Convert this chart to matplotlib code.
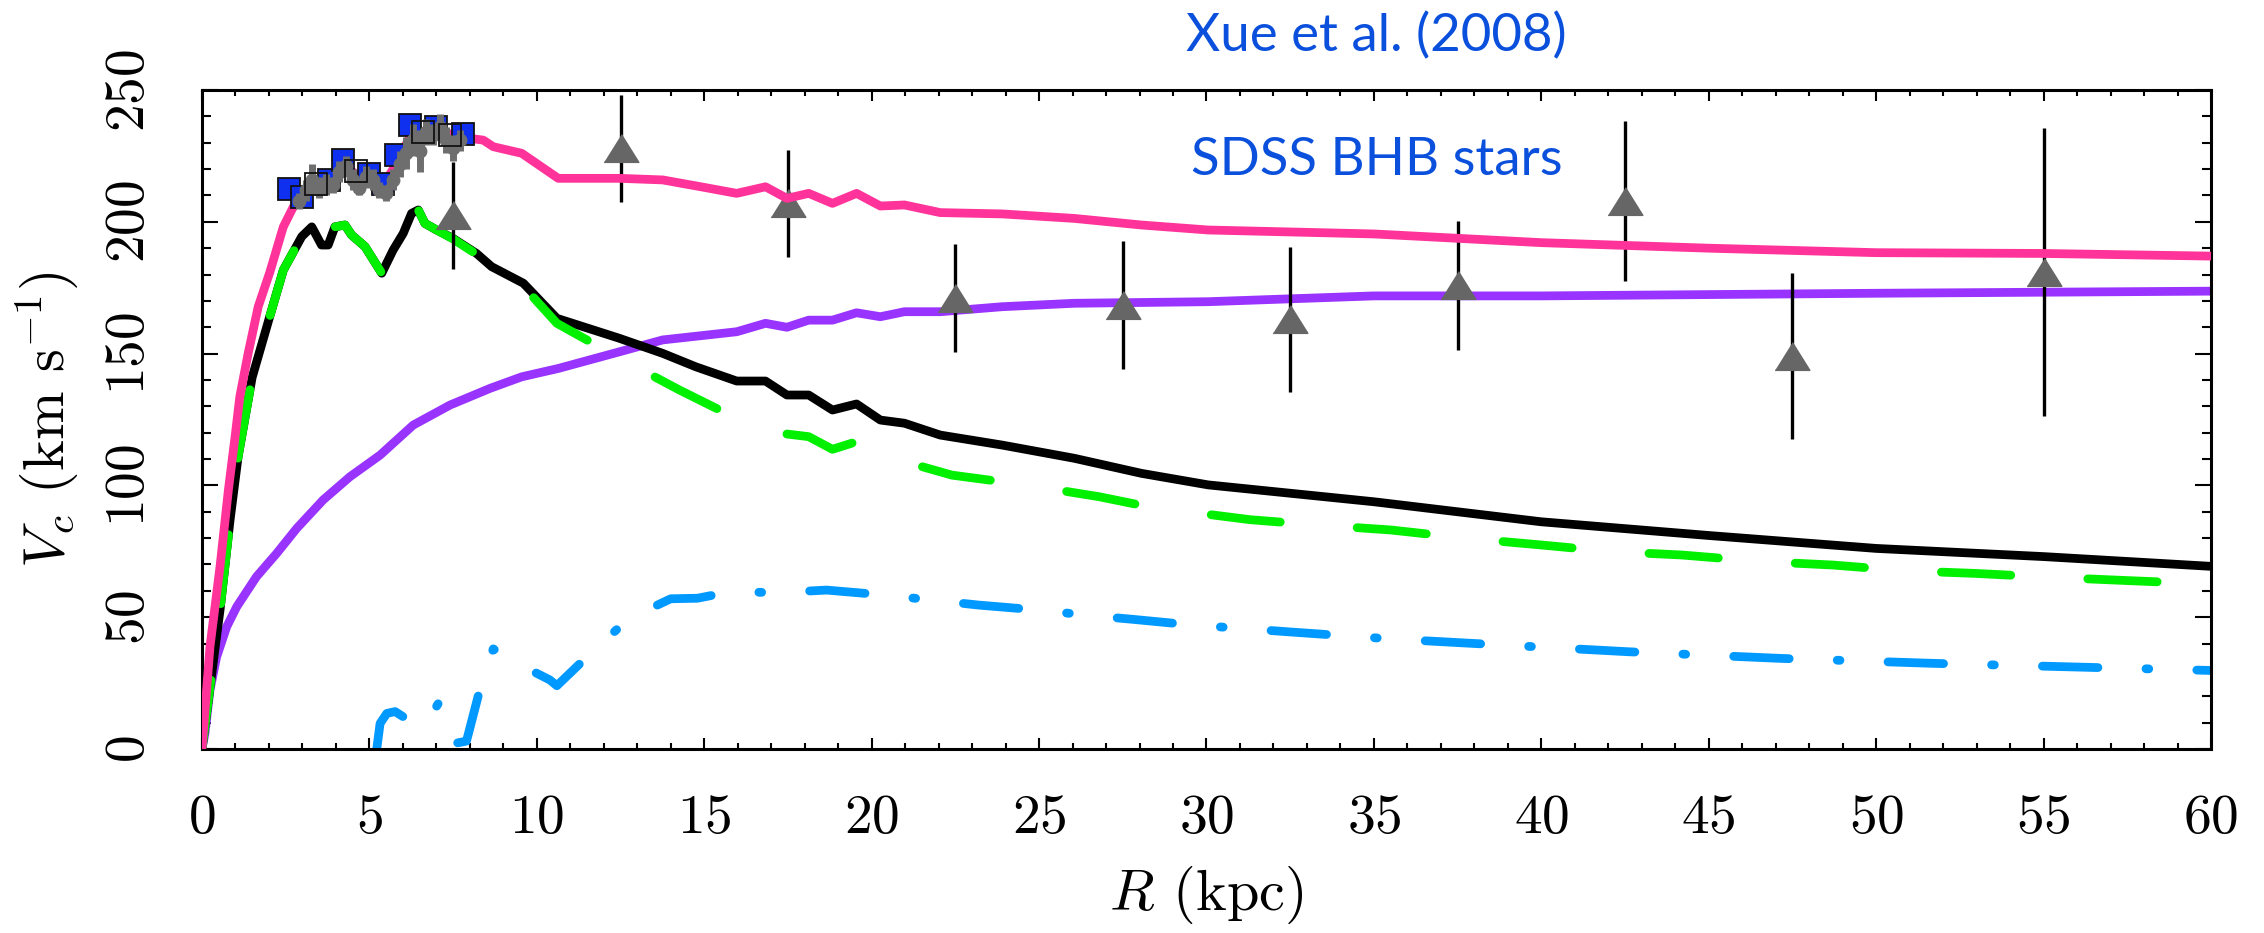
import matplotlib
matplotlib.use("Agg")
import matplotlib.pyplot as plt

plt.rcParams.update({
    "font.family": "cmr10",
    "mathtext.fontset": "cm",
    "axes.formatter.use_mathtext": True,
    "lines.scale_dashes": False,
})

# ---------------- model rotation curves (R in kpc, V in km/s) ----------------
total_R = [0, 0.24, 0.54, 0.79, 0.99, 1.13, 1.38, 1.68, 2.03, 2.43, 2.73, 3.0, 3.3, 3.6,
           4.0, 4.3, 4.6, 5.0, 5.4, 5.8, 6.2, 6.6, 7.0, 7.5, 7.8, 8.4, 8.7, 9.55, 10.64,
           12.47, 13.76, 14.9, 15.97, 16.83, 17.47, 18.12, 18.83, 19.55, 20.26, 20.98,
           22.05, 23.9, 26.05, 28.05, 30.05, 35, 40, 45, 50, 55, 60]
total_V = [0, 38.8, 69.2, 98.3, 118.5, 133.6, 150.1, 167.8, 181, 198.1, 205.7, 209.5, 213,
           212, 216, 221, 218, 216, 213.5, 222, 232, 234, 235, 233, 232, 231, 228.5, 226,
           216.5, 216.5, 215.9, 213.3, 210.8, 213.3, 208.9, 210.8, 207, 210.8, 206, 206.4,
           203.5, 203, 201.3, 198.8, 196.9, 195.4, 192.1, 190, 188.3, 188, 187]

baryon_R = [0, 0.54, 0.84, 1.08, 1.5, 2.08, 2.43, 2.98, 3.28, 3.57, 3.77, 3.97, 4.27, 4.47,
            4.87, 5.37, 5.71, 6.01, 6.26, 6.46, 6.66, 7.01, 7.5, 8.2, 8.65, 9.6, 10.6,
            12.47, 13.76, 14.75, 15.97, 16.83, 17.47, 18.12, 18.83, 19.55, 20.26, 20.98,
            22.05, 23.9, 26.05, 28.05, 30.05, 35, 40, 45, 50, 55, 60]
baryon_V = [0, 52.7, 86.9, 110.9, 141, 166.5, 181.7, 194.4, 198.1, 191.2, 191.2, 198.1,
            198.8, 195, 190.6, 180.5, 189.3, 195.6, 203.2, 204.5, 199.4, 196.9, 193.7, 188,
            183, 176.7, 163.4, 155.8, 150.1, 145, 139.6, 139.6, 134.3, 134.3, 128.6, 130.9,
            124.8, 123.6, 119.1, 115.3, 110.3, 104.6, 100.2, 93.8, 86.2, 81, 76.1, 73, 69.3]

disk_R = [0, 0.54, 0.84, 1.08, 1.5, 2.08, 2.43, 2.98, 3.28, 3.57, 3.77, 3.97, 4.27, 4.47,
          4.87, 5.37, 5.71, 6.01, 6.26, 6.46, 6.66, 7.01, 7.5, 8.2, 8.65, 9.6, 10.6, 12.4,
          13.8, 14.26, 15.97, 16.83, 17.47, 18.12, 18.83, 19.55, 20.26, 20.98, 22.4, 24.6,
          26.8, 28.0, 29.0, 31.3, 33.3, 35.5, 37.8, 40.0, 42.1, 44.2, 46.6, 48.7, 50.9,
          53.0, 55.3, 57.5, 60]
disk_V = [0, 52.7, 86.9, 110.9, 141, 166.5, 181.7, 194.4, 198.1, 191.2, 191.2, 198.1,
          198.8, 195, 190.6, 180.5, 189.3, 195.6, 203.2, 204.5, 199.4, 196.9, 193.5, 187.7,
          182.5, 175.5, 161.5, 148.8, 139.3, 136.2, 125.4, 125.2, 119.5, 118.5, 113.7,
          116.6, 110, 109, 103.9, 100.2, 95.7, 92.6, 90.7, 87, 85, 83.1, 79.9, 77.4, 74.9,
          73.6, 71.1, 69.8, 67.6, 66.6, 65.1, 63.9, 62.6]

gas_R = [5.22, 5.32, 5.52, 5.77, 6.16, 6.5, 6.8, 7.06, 7.16, 7.5, 7.9, 8.35, 8.7, 9.0, 9.1,
         10.39, 10.6, 11.69, 12.75, 14.0, 14.8, 15.8, 17.2, 18.65, 20.4, 21.8, 23.2, 25.0,
         26.4, 27.8, 29.6, 31.0, 32.4, 34.2, 35.6, 37.9, 42.6, 47.1, 51.7, 56.3, 60]
gas_V = [0, 9.7, 13.5, 14.2, 11, 8, 12, 17.3, 13.5, 2, 3, 25, 38, 35.3, 34.5, 26.2, 24,
         37.3, 49.5, 57, 57.2, 59.7, 59.3, 60.3, 58.4, 56.5, 54.6, 52.7, 50.8, 49.2, 47.0,
         45.8, 44.5, 42.9, 41.7, 40.1, 36.9, 34.4, 32.5, 31.0, 29.8]

halo_R = [0, 0.09, 0.24, 0.44, 0.74, 1.04, 1.63, 2.23, 2.83, 3.62, 4.42, 5.32, 6.31, 7.41,
          8.6, 9.55, 10.65, 12.47, 13.76, 15.97, 16.83, 17.47, 18.12, 18.83, 19.55, 20.26,
          20.98, 22.05, 23.9, 26.05, 30.05, 35, 40, 50, 60]
halo_V = [0, 6, 22.4, 35, 46.4, 54, 65.4, 74.2, 83.7, 94.5, 103.3, 111.5, 122.9, 130.5,
          136.8, 141.2, 144.4, 150.7, 155.2, 158.3, 161.5, 160, 162.7, 162.7, 165.5, 164,
          165.9, 165.9, 167.8, 169.1, 169.7, 171.9, 171.9, 172.9, 173.7]

# ---------------- observations ----------------
bhb_R = [7.5, 12.5, 17.5, 22.5, 27.5, 32.5, 37.5, 42.5, 47.5, 55]
bhb_V = [202.5, 228, 207, 171, 168.5, 163, 176, 208, 149, 181]
bhb_err = [20.3, 20.3, 20.3, 20.4, 24.4, 27.4, 24.5, 30.3, 31.4, 54.5]

filled_R = [2.6, 3.0, 3.8, 4.2, 5.0, 5.4, 5.8, 6.2, 7.0, 7.8]
filled_V = [212.4, 209.5, 215.7, 223.4, 218.1, 214.4, 225.4, 236.6, 236, 233.5]

open_R = [3.4, 4.6, 6.6, 7.4]
open_V = [214.2, 219.4, 234.2, 233]

inner_R = [2.9, 3.1, 3.3, 3.5, 3.7, 3.9, 4.1, 4.3, 4.5, 4.7, 4.9, 5.1, 5.3, 5.5, 5.7, 5.9,
           6.1, 6.3, 6.5, 6.7, 6.9, 7.1, 7.3, 7.5, 7.7]
inner_V = [208, 212, 216, 213, 214, 214, 219, 221, 216, 213, 217, 216, 212, 211, 216, 222,
           226, 231, 227, 234, 233, 236, 231, 228, 231]
inner_err = [3, 4, 6, 4, 4, 3, 4, 4, 4, 3, 4, 4, 3, 3, 4, 5, 6, 6, 8, 5, 4, 5, 5, 5, 4]

x_ticks = [0, 5, 10, 15, 20, 25, 30, 35, 40, 45, 50, 55, 60]
y_ticks = [0, 50, 100, 150, 200, 250]

# ---------------- figure ----------------
fig = plt.figure(figsize=(22.64, 9.33), dpi=100)
ax = fig.add_axes([0.0892, 0.1972, 0.8874, 0.7063])

LW = 6.3
ax.plot(halo_R, halo_V, color="#9933FF", lw=LW, solid_capstyle="round",
        solid_joinstyle="round", zorder=2.0)
ax.plot(baryon_R, baryon_V, color="black", lw=LW, solid_capstyle="round",
        solid_joinstyle="round", zorder=2.1)
ax.plot(disk_R, disk_V, color="#00F000", lw=LW, dashes=(50, 55.5),
        dash_capstyle="round", dash_joinstyle="round", zorder=2.2)
ax.plot(gas_R, gas_V, color="#0099FF", lw=LW, dashes=(40, 34.6, 2, 34.6),
        dash_capstyle="round", dash_joinstyle="round", zorder=2.3)

tri = [(-1, -0.8), (1, -0.8), (0, 0.8)]
ax.errorbar(bhb_R, bhb_V, yerr=bhb_err, fmt="none", ecolor="black", elinewidth=2.4,
            capsize=0, zorder=2.45)
ax.plot(bhb_R, bhb_V, ls="none", marker=tri, ms=25, mfc="#666666", mec="#666666",
        zorder=2.5)

ax.plot(total_R, total_V, color="#FF3399", lw=LW, solid_capstyle="round",
        solid_joinstyle="round", zorder=2.6)

ax.plot(filled_R, filled_V, ls="none", marker="s", ms=15.5, mfc="#1030F0", mec="#111111",
        mew=1.3, zorder=3.0)
ax.errorbar(inner_R, inner_V, yerr=inner_err, fmt="o", ms=9, color="#6E6E6E",
            ecolor="#6E6E6E", elinewidth=5, capsize=0, zorder=3.1)
ax.plot(inner_R, inner_V, color="#6E6E6E", lw=5, solid_capstyle="round", zorder=3.1)
ax.plot(open_R, open_V, ls="none", marker="s", ms=15.5, mfc="none", mec="#111111",
        mew=1.3, zorder=3.2)

# ---------------- axes styling ----------------
ax.set_xlim(0, 60)
ax.set_ylim(0, 250)
ax.set_xticks(x_ticks)
ax.set_xticks(range(0, 61), minor=True)
ax.set_yticks(y_ticks)
ax.set_yticks(range(0, 251, 10), minor=True)
for s in ax.spines.values():
    s.set_linewidth(2.2)
ax.tick_params(which="both", direction="in", top=True, right=True, width=1.5,
               labelsize=40)
ax.tick_params(axis="x", which="major", length=8, pad=33)
ax.tick_params(axis="x", which="minor", length=4.3)
ax.tick_params(axis="y", which="major", length=11.5, pad=34, labelrotation=90)
ax.tick_params(axis="y", which="minor", length=6.5)
for lab in ax.get_yticklabels():
    lab.set_va("center")

ax.set_xlabel(r"$R$ (kpc)", fontsize=42, labelpad=14)
ax.set_ylabel(r"$V_c$ (km s$^{-1}$)", fontsize=42, labelpad=18)

fig.text(1376 / 2264, 1 - 51.7 / 933, "Xue et al. (2008)", family="Lato", fontsize=38,
         color="#0A50DC", ha="center", va="baseline")
fig.text(1377 / 2264, 1 - 175 / 933, "SDSS BHB stars", family="Lato", fontsize=38,
         color="#0A50DC", ha="center", va="baseline")

fig.savefig("out.png", dpi=100)
